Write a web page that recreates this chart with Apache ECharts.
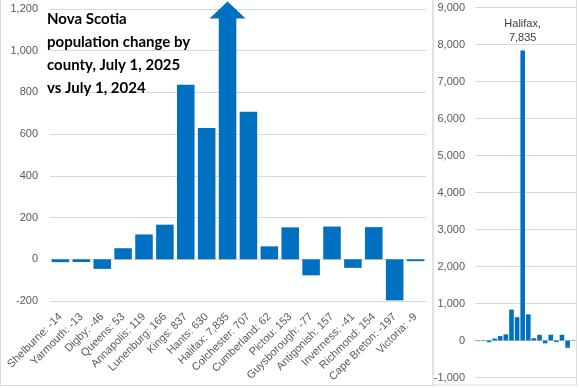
<!DOCTYPE html>
<html><head><meta charset="utf-8">
<script src="https://cdn.jsdelivr.net/npm/echarts@6/dist/echarts.min.js"></script>
<style>html,body{margin:0;padding:0;background:#fff}#c{width:579px;height:388px}</style>
</head><body><div id="c"></div>
<script>
var counties = ["Shelburne","Yarmouth","Digby","Queens","Annapolis","Lunenburg","Kings","Hants","Halifax","Colchester","Cumberland","Pictou","Guysborough","Antigonish","Inverness","Richmond","Cape Breton","Victoria"];
var changes = [-14,-13,-46,53,119,166,837,630,7835,707,62,153,-77,157,-41,154,-197,-9];
var leftTicks = {min:-200, max:1200, interval:200};
var rightTicks = {min:-1000, max:9000, interval:1000};
var titleText = "Nova Scotia\npopulation change by\ncounty, July 1, 2025\nvs July 1, 2024";

function fmt(v){ return Number(v).toLocaleString('en-US'); }
var labels = counties.map(function(c,i){ return c + ": " + fmt(changes[i]); });
var blue = '#0070C0';
var grid = '#d9d9d9';
var font = 'Liberation Sans';

var chart = echarts.init(document.getElementById('c'), null, {renderer:'canvas'});
chart.setOption({
  animation:false,
  textStyle:{fontFamily:font},
  grid:[
    {left:50, top:9, width:376, height:292},
    {left:475, top:7.5, width:101, height:370}
  ],
  xAxis:[
    {gridIndex:0, type:'category', data:labels, axisLine:{show:false, onZero:false}, axisTick:{show:false},
     axisLabel:{rotate:45, interval:0, color:'#595959', fontSize:11, margin:14, fontFamily:font}},
    {gridIndex:1, type:'category', data:counties, axisLine:{show:false, onZero:false}, axisTick:{show:false},
     axisLabel:{show:false}}
  ],
  yAxis:[
    {gridIndex:0, type:'value', min:leftTicks.min, max:leftTicks.max, interval:leftTicks.interval,
     axisLabel:{color:'#595959', fontSize:11, margin:12, formatter:fmt, fontFamily:font},
     splitLine:{lineStyle:{color:grid}}, axisLine:{show:false}, axisTick:{show:false}},
    {gridIndex:1, type:'value', min:rightTicks.min, max:rightTicks.max, interval:rightTicks.interval,
     axisLabel:{color:'#595959', fontSize:11, margin:10, formatter:fmt, fontFamily:font},
     splitLine:{lineStyle:{color:grid}}, axisLine:{show:false}, axisTick:{show:false}}
  ],
  series:[
    {type:'bar', xAxisIndex:0, yAxisIndex:0, data:changes, clip:true, barCategoryGap:'16%',
     itemStyle:{color:blue},
     markPoint:{symbol:'triangle', symbolSize:[36,17], symbolOffset:[0,1], silent:true,
       label:{show:false}, itemStyle:{color:blue},
       data:[{coord:[counties.indexOf('Halifax'), leftTicks.max]}]}},
    {type:'bar', xAxisIndex:1, yAxisIndex:1, barCategoryGap:'18%', itemStyle:{color:blue},
     data:changes.map(function(v,i){
       if(counties[i]==='Halifax') return {value:v, label:{show:true, position:'top', distance:6,
         formatter:counties[i]+",\n"+fmt(v), color:'#404040', fontSize:11, lineHeight:14, fontFamily:font}};
       return v;
     })}
  ],
  graphic:[
    {type:'rect', shape:{x:0.5, y:-2, width:432.5, height:387.5}, style:{fill:null, stroke:grid, lineWidth:1}, silent:true},
    {type:'rect', shape:{x:433, y:-2, width:143.5, height:387}, style:{fill:null, stroke:grid, lineWidth:1}, silent:true},
    {type:'text', left:47, top:8, style:{text:titleText, font:'bold 15px Lato', fill:'#000', lineHeight:23}, z:10}
  ]
});
</script></body></html>
